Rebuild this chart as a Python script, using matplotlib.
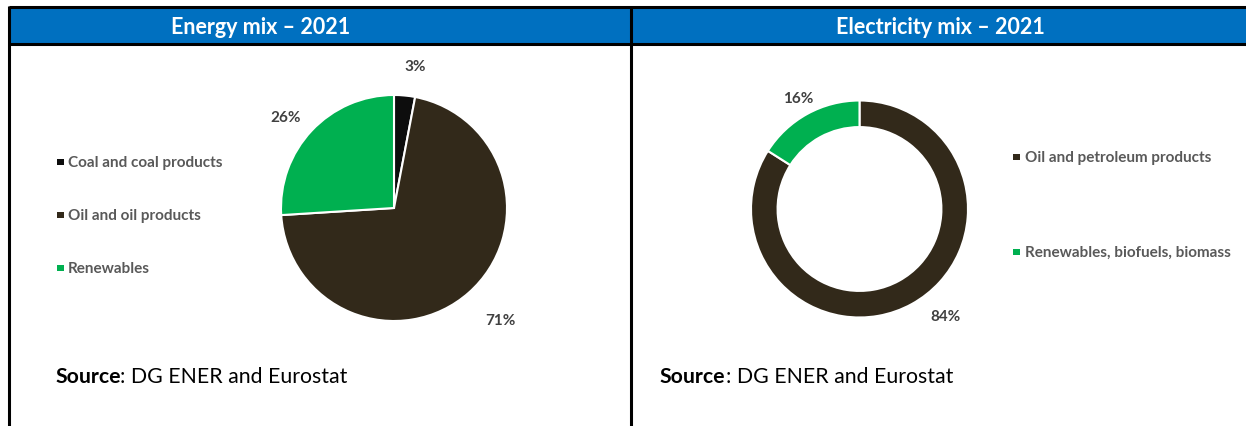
import matplotlib
matplotlib.use("Agg")
import matplotlib.pyplot as plt
from matplotlib.patches import Rectangle
import numpy as np

# ---- data ----
energy_labels = ["Coal and coal products", "Oil and oil products", "Renewables"]
energy_values = [3, 71, 26]
energy_colors = ["#0D0D0D", "#32291A", "#00B050"]

elec_labels = ["Oil and petroleum products", "Renewables, biofuels, biomass"]
elec_values = [84, 16]
elec_colors = ["#32291A", "#00B050"]

titles = ["Energy mix \u2013 2021", "Electricity mix \u2013 2021"]
source_bold = "Source"
source_rest = ": DG ENER and Eurostat"

plt.rcParams['font.family'] = ['Lato', 'DejaVu Sans']

W, H = 1246, 427
fig = plt.figure(figsize=(W / 100, H / 100), dpi=100)
bg = fig.add_axes([0, 0, 1, 1])
bg.set_xlim(0, W)
bg.set_ylim(H, 0)
bg.axis('off')

# header band and table lines
bg.add_patch(Rectangle((9, 8), W - 9, 37, facecolor="#0070C0", edgecolor='none', zorder=1))
lw = 2.2
bg.plot([9, W], [8, 8], color='black', lw=lw, zorder=3, solid_capstyle='butt')
bg.plot([9, W], [45, 45], color='black', lw=lw, zorder=3, solid_capstyle='butt')
bg.plot([9, 9], [7, H], color='black', lw=lw, zorder=3, solid_capstyle='butt')
bg.plot([631, 631], [7, H], color='black', lw=lw, zorder=3, solid_capstyle='butt')

for t, cx in zip(titles, [261, 940]):
    bg.text(cx, 27.5, t, color='white', fontsize=15.5, fontweight='bold',
            ha='center', va='center', zorder=4)

# source lines
renderer = fig.canvas.get_renderer()
for sx in [55, 660]:
    tb = bg.text(sx, 377, source_bold, fontsize=15.3, fontweight='bold',
                 color='black', ha='left', va='center')
    bb = tb.get_window_extent(renderer=renderer)
    bg.text(bb.x1, H - (bb.y0 + bb.y1) / 2, source_rest, fontsize=15.3,
            color='black', ha='left', va='center')

label_color = "#404040"
legend_color = "#595959"


def pie_axes(cx, cy, r):
    side = 3.0 * r
    return fig.add_axes([(cx - side / 2) / W, 1 - (cy + side / 2) / H, side / W, side / H])


# ---- left pie ----
ax1 = pie_axes(394, 209, 113)
wedges1, _ = ax1.pie(energy_values, colors=energy_colors, startangle=90, counterclock=False,
                     wedgeprops=dict(edgecolor='white', linewidth=1.5))
ax1.set_xlim(-1.5, 1.5)
ax1.set_ylim(-1.5, 1.5)
ax1.axis('off')
lab_r = [1.27, 1.37, 1.25]
lab_da = [-3, 2, 3]
for w, v, r, da in zip(wedges1, energy_values, lab_r, lab_da):
    ang = np.deg2rad((w.theta1 + w.theta2) / 2 + da)
    ax1.text(r * np.cos(ang), r * np.sin(ang), f"{v}%", ha='center', va='center',
             fontsize=11, fontweight='bold', color=label_color)

# left legend
for i, (lab, col) in enumerate(zip(energy_labels, energy_colors)):
    y = 163 + i * 53
    bg.add_patch(Rectangle((57, y - 3.5), 6.5, 6.5, facecolor=col, edgecolor='none'))
    bg.text(68, y, lab, fontsize=11, fontweight='bold', color=legend_color,
            ha='left', va='center')

# ---- right donut ----
ax2 = pie_axes(859.5, 210, 108.5)
wedges2, _ = ax2.pie(elec_values, colors=elec_colors, startangle=90, counterclock=False,
                     wedgeprops=dict(edgecolor='white', linewidth=1.5, width=0.245))
ax2.set_xlim(-1.5, 1.5)
ax2.set_ylim(-1.5, 1.5)
ax2.axis('off')
lab_r2 = [1.26, 1.17]
lab_da2 = [10, 0]
for w, v, r, da in zip(wedges2, elec_values, lab_r2, lab_da2):
    ang = np.deg2rad((w.theta1 + w.theta2) / 2 + da)
    ax2.text(r * np.cos(ang), r * np.sin(ang), f"{v}%", ha='center', va='center',
             fontsize=11, fontweight='bold', color=label_color)

for i, (lab, col) in enumerate(zip(elec_labels, elec_colors)):
    y = 158 + i * 95
    bg.add_patch(Rectangle((1013, y - 3.5), 6.5, 6.5, facecolor=col, edgecolor='none'))
    bg.text(1025, y, lab, fontsize=11, fontweight='bold', color=legend_color,
            ha='left', va='center')

fig.savefig("out.png", dpi=100, facecolor='white')
